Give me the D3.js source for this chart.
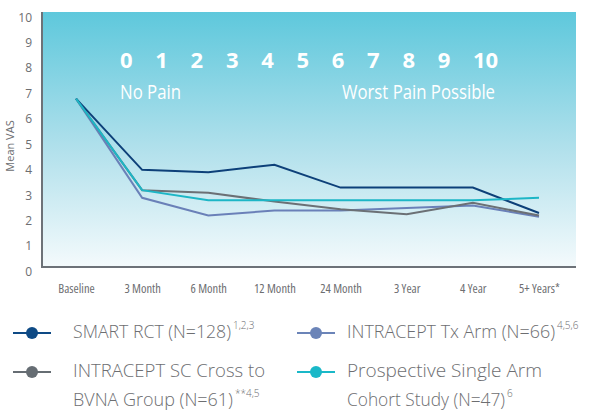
<!DOCTYPE html>
<html lang="en">
<head>
<meta charset="UTF-8">
<title>Mean VAS</title>
<script src="https://cdn.jsdelivr.net/npm/d3@7/dist/d3.min.js"></script>
<style>
  body { margin: 0; background: #fff; }
  text { font-family: "Open Sans", "Noto Sans", sans-serif; }
  .tick text { fill: #6d6e71; }
  .leg { fill: #6d6e71; font-size: 19px; font-weight: 300; }
  .sup { font-size: 10px; }
</style>
</head>
<body>
<script>
var categories = ["Baseline", "3 Month", "6 Month", "12 Month", "24 Month", "3 Year", "4 Year", "5+ Years*"];
var smartRct = [6.8, 4.0, 3.9, 4.2, 3.3, 3.3, 3.3, 2.3];
var txArm = [6.8, 2.9, 2.2, 2.4, 2.4, 2.5, 2.6, 2.15];
var scCross = [6.8, 3.2, 3.1, 2.75, 2.45, 2.25, 2.7, 2.2];
var cohort = [6.8, 3.2, 2.8, 2.8, 2.8, 2.8, 2.8, 2.9];
var yTicks = [0, 1, 2, 3, 4, 5, 6, 7, 8, 9, 10];
var painScale = ["0", "1", "2", "3", "4", "5", "6", "7", "8", "9", "10"];

var width = 592, height = 411;
var plot = {left: 42, right: 576, top: 12, bottom: 267};

var svg = d3.select('body').append('svg')
    .attr('width', width)
    .attr('height', height);

// background gradient
var grad = svg.append('defs').append('linearGradient')
    .attr('id', 'bg').attr('x1', 0).attr('y1', 0).attr('x2', 0).attr('y2', 1);
grad.append('stop').attr('offset', '0%').attr('stop-color', '#5ec8dc');
grad.append('stop').attr('offset', '55%').attr('stop-color', '#b3e1ec');
grad.append('stop').attr('offset', '100%').attr('stop-color', '#f4fafc');

svg.append('rect')
    .attr('x', plot.left).attr('y', plot.top)
    .attr('width', plot.right - plot.left)
    .attr('height', plot.bottom - plot.top)
    .attr('fill', 'url(#bg)');

var x = d3.scalePoint()
    .domain(categories)
    .range([76, 539]);

var y = d3.scaleLinear()
    .domain([0, 10])
    .range([271.5, 17.3]);

// y axis labels
var yAxis = svg.append('g')
    .attr('transform', 'translate(32,0)')
    .call(d3.axisLeft(y).tickValues(yTicks).tickSize(0).tickPadding(0));
yAxis.select('.domain').remove();
yAxis.selectAll('text').attr('font-size', 12);

// x axis labels
var xAxis = svg.append('g')
    .attr('transform', 'translate(0,282)')
    .call(d3.axisBottom(x).tickSize(0).tickPadding(0));
xAxis.select('.domain').remove();
xAxis.selectAll('text').attr('font-size', 12.5).attr('dy', '0.85em')
    .style('font-stretch', 'condensed');

// axis lines
svg.append('path')
    .attr('d', 'M' + plot.left + ',' + plot.top + 'V' + plot.bottom + 'H' + plot.right)
    .attr('fill', 'none')
    .attr('stroke', '#6d7278')
    .attr('stroke-width', 2);

svg.append('text')
    .attr('transform', 'translate(14,146) rotate(-90)')
    .attr('text-anchor', 'middle')
    .attr('font-size', 11)
    .attr('fill', '#6d6e71')
    .text('Mean VAS');

// pain scale header
var px = d3.scalePoint().domain(painScale).range([120, 473]);
svg.selectAll('.pain')
    .data(painScale)
    .enter()
    .append('text')
    .attr('class', 'pain')
    .attr('x', function (d) { return px(d); })
    .attr('y', 68)
    .attr('fill', '#fff')
    .attr('font-size', 22)
    .attr('font-weight', 700)
    .text(function (d) { return d; });

svg.append('text')
    .attr('x', 120).attr('y', 99)
    .attr('fill', '#fff').attr('font-size', 20)
    .attr('textLength', 61).attr('lengthAdjust', 'spacingAndGlyphs')
    .text('No Pain');

svg.append('text')
    .attr('x', 342).attr('y', 99)
    .attr('fill', '#fff').attr('font-size', 20)
    .attr('textLength', 153).attr('lengthAdjust', 'spacingAndGlyphs')
    .text('Worst Pain Possible');

// lines
var series = [
    {name: 'tx', values: txArm, color: '#6a80b8'},
    {name: 'sc', values: scCross, color: '#6b7075'},
    {name: 'smart', values: smartRct, color: '#0d4079'},
    {name: 'cohort', values: cohort, color: '#1db6c6'}
];

var line = d3.line()
    .x(function (d, i) { return x(categories[i]); })
    .y(function (d) { return y(d); });

svg.selectAll('.series')
    .data(series)
    .enter()
    .append('path')
    .attr('class', 'series')
    .attr('d', function (d) { return line(d.values); })
    .attr('fill', 'none')
    .attr('stroke', function (d) { return d.color; })
    .attr('stroke-width', 2);

// legend
var legend = [
    {lx: 13, ly: 333, tx: 60, color: '#0e4a85', lines: ['SMART RCT (N=128)'], widths: [158], sup: '1,2,3'},
    {lx: 13, ly: 372, tx: 60, color: '#666d73', lines: ['INTRACEPT SC Cross to', 'BVNA Group (N=61)'], widths: [192, 160], sup: '**4,5'},
    {lx: 297, ly: 333, tx: 50, color: '#6b84b8', lines: ['INTRACEPT Tx Arm (N=66)'], widths: [208], sup: '4,5,6'},
    {lx: 297, ly: 372, tx: 50, color: '#1ab8c8', lines: ['Prospective Single Arm', 'Cohort Study (N=47)'], widths: [195, 158], sup: '6'}
];

var items = svg.selectAll('.legend')
    .data(legend)
    .enter()
    .append('g')
    .attr('class', 'legend')
    .attr('transform', function (d) { return 'translate(' + d.lx + ',' + d.ly + ')'; });

items.append('line')
    .attr('x1', 0).attr('x2', 38)
    .attr('stroke', function (d) { return d.color; })
    .attr('stroke-width', 2);

items.append('circle')
    .attr('cx', 19).attr('r', 6)
    .attr('fill', function (d) { return d.color; });

items.each(function (d) {
    var g = d3.select(this);
    var last = d.lines.length - 1;
    d.lines.forEach(function (t, i) {
        var txt = g.append('text')
            .attr('class', 'leg')
            .attr('x', d.tx)
            .attr('y', 5 + i * 29);
        txt.append('tspan')
            .attr('textLength', d.widths[i])
            .attr('lengthAdjust', 'spacingAndGlyphs')
            .text(t);
        if (i === last) {
            txt.append('tspan')
                .attr('class', 'sup')
                .attr('dx', 2)
                .attr('dy', -9)
                .text(d.sup);
        }
    });
});
</script>
</body>
</html>
